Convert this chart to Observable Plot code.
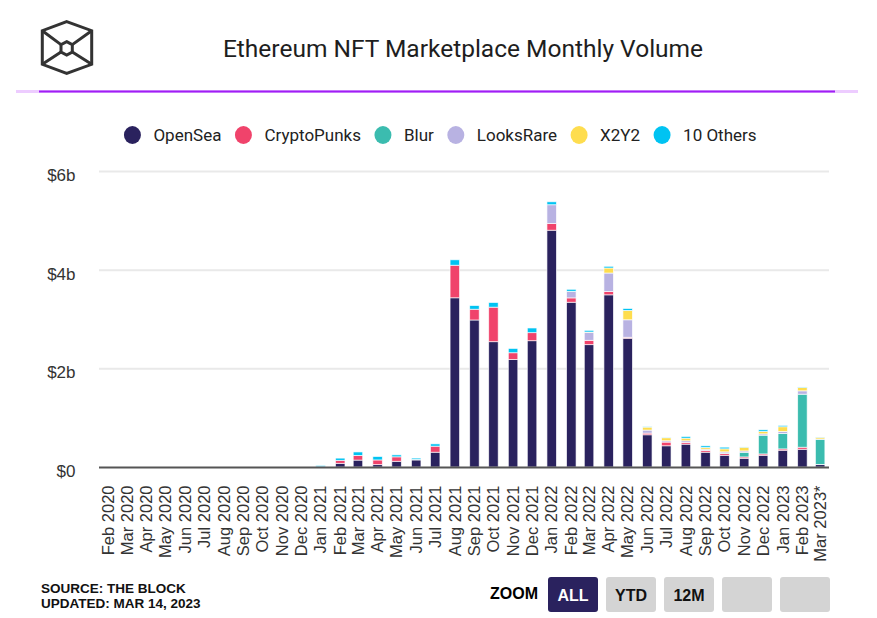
<!DOCTYPE html>
<html>
<head>
<meta charset="utf-8">
<script src="https://cdn.jsdelivr.net/npm/d3@7"></script>
<script src="https://cdn.jsdelivr.net/npm/@observablehq/plot@0.6"></script>
<style>
  html, body { margin: 0; padding: 0; background: #fff; }
  body { width: 877px; height: 618px; position: relative; overflow: hidden; font-family: "Liberation Sans", Arial, sans-serif; }
  #frame { position: absolute; left: 0; top: 0; }
  #chart { position: absolute; left: 0; top: 160px; }
</style>
</head>
<body>
<svg id="frame" width="877" height="618"></svg>
<div id="chart"></div>
<script>
// ---------- DATA ----------
const months = [
  "2020-02","2020-03","2020-04","2020-05","2020-06","2020-07","2020-08","2020-09","2020-10","2020-11","2020-12",
  "2021-01","2021-02","2021-03","2021-04","2021-05","2021-06","2021-07","2021-08","2021-09","2021-10","2021-11","2021-12",
  "2022-01","2022-02","2022-03","2022-04","2022-05","2022-06","2022-07","2022-08","2022-09","2022-10","2022-11","2022-12",
  "2023-01","2023-02","2023-03"
];
const monthLabels = [
  "Feb 2020","Mar 2020","Apr 2020","May 2020","Jun 2020","Jul 2020","Aug 2020","Sep 2020","Oct 2020","Nov 2020","Dec 2020",
  "Jan 2021","Feb 2021","Mar 2021","Apr 2021","May 2021","Jun 2021","Jul 2021","Aug 2021","Sep 2021","Oct 2021","Nov 2021","Dec 2021",
  "Jan 2022","Feb 2022","Mar 2022","Apr 2022","May 2022","Jun 2022","Jul 2022","Aug 2022","Sep 2022","Oct 2022","Nov 2022","Dec 2022",
  "Jan 2023","Feb 2023","Mar 2023*"
];
const seriesNames = ["OpenSea", "CryptoPunks", "Blur", "LooksRare", "X2Y2", "10 Others"];
const seriesColors = ["#2a225e", "#f0436b", "#3bbcaf", "#b8b2e2", "#fedd4f", "#00c3f2"];

// monthly volume, $ billions
const openSea = [0,0,0,0,0,0,0,0,0,0,0,
  0.006,0.075,0.14,0.048,0.116,0.143,0.30,3.43,2.98,2.54,2.18,2.56,
  4.80,3.34,2.48,3.49,2.61,0.653,0.43,0.463,0.30,0.238,0.177,0.238,
  0.34,0.36,0.048];
const cryptoPunks = [0,0,0,0,0,0,0,0,0,0,0,
  0,0.06,0.095,0.095,0.09,0.01,0.122,0.66,0.218,0.70,0.136,0.163,
  0.136,0.088,0.088,0.068,0.02,0.034,0.075,0.034,0.034,0.034,0.027,0.027,
  0.027,0.041,0.005];
const blur = [0,0,0,0,0,0,0,0,0,0,0,
  0,0,0,0,0,0,0,0,0,0,0,0,
  0,0,0,0,0,0,0,0,0,0.01,0.095,0.38,
  0.313,1.075,0.51];
const looksRare = [0,0,0,0,0,0,0,0,0,0,0,
  0,0,0,0,0,0,0,0,0,0,0,0,
  0.38,0.129,0.163,0.374,0.354,0.061,0.027,0.034,0.027,0.025,0.027,0.027,
  0.041,0.068,0.005];
const x2y2 = [0,0,0,0,0,0,0,0,0,0,0,
  0,0,0,0,0,0,0,0,0,0,0,0,
  0,0.005,0.005,0.102,0.19,0.061,0.061,0.054,0.034,0.061,0.075,0.048,
  0.095,0.068,0.034];
const others = [0,0,0,0,0,0,0,0,0,0,0,
  0.025,0.045,0.07,0.07,0.04,0.027,0.047,0.11,0.075,0.095,0.088,0.095,
  0.06,0.04,0.034,0.034,0.04,0.014,0.01,0.034,0.034,0.034,0.005,0.034,
  0.027,0.01,0.005];
const seriesValues = [openSea, cryptoPunks, blur, looksRare, x2y2, others];
const yTicks = [0, 2, 4, 6];

// ---------- BUILD ----------
const parseMonth = d3.utcParse("%Y-%m");
const dates = months.map(parseMonth);
const labelByTime = new Map(dates.map((d, i) => [+d, monthLabels[i]]));
const rows = [];
seriesNames.forEach((s, si) => {
  seriesValues[si].forEach((v, i) => {
    if (v > 0) rows.push({
      series: s, value: v, date: dates[i],
      start: d3.utcHour.offset(dates[i], -180),
      end: d3.utcHour.offset(dates[i], 180)
    });
  });
});

const plot = Plot.plot({
  width: 877, height: 420,
  marginLeft: 99, marginRight: 48, marginTop: 11, marginBottom: 113,
  style: { fontFamily: "'Liberation Sans', Arial, sans-serif", background: "transparent", overflow: "visible" },
  x: { type: "utc", label: null, domain: [new Date(Date.UTC(2020, 0, 17)), new Date(Date.UTC(2023, 2, 15))] },
  y: { domain: [0, 6], label: null },
  color: { domain: seriesNames, range: seriesColors },
  marks: [
    Plot.gridY(yTicks.filter(t => t > 0), { stroke: "#e9e9e9", strokeOpacity: 1, strokeWidth: 2 }),
    Plot.rectY(rows, Plot.stackY({
      x1: "start", x2: "end", y: "value", fill: "series", z: "series",
      order: seriesNames, stroke: "#ffffff", strokeWidth: 0.8, strokeOpacity: 0.8
    })),
    Plot.ruleY([0], { stroke: "#555", strokeWidth: 2 }),
    Plot.axisY(yTicks, {
      tickSize: 0, tickPadding: 24, fontSize: 17, fill: "#333", dy: 4, label: null,
      tickFormat: d => d === 0 ? "$0" : `$${d}b`
    }),
    Plot.axisX(dates, {
      tickSize: 0, tickPadding: 18, tickRotate: -90, fontSize: 16.5, fill: "#333", label: null,
      tickFormat: d => labelByTime.get(+d)
    })
  ]
});
document.getElementById("chart").appendChild(plot);

// ---------- FRAME: logo, title, legend, footer ----------
const NS = "http://www.w3.org/2000/svg";
const frame = document.getElementById("frame");
function el(tag, attrs, parent = frame) {
  const e = document.createElementNS(NS, tag);
  for (const k in attrs) e.setAttribute(k, attrs[k]);
  parent.appendChild(e);
  return e;
}
// logo
const logo = el("g", { fill: "none", stroke: "#333", "stroke-width": 3, "stroke-linejoin": "miter" });
el("polygon", { points: "66.7,21.7 91.7,30.7 91.7,64.3 66.7,73.3 42.3,64.3 42.3,30.7" }, logo);
el("polygon", { points: "66.7,41.7 72.3,44.6 72.3,52 66.7,55 61,52 61,44.6" }, logo);
el("path", { d: "M42.3,30.7L61,44.6M91.7,30.7L72.3,44.6M42.3,64.3L61,52M91.7,64.3L72.3,52" }, logo);

// title
const title = el("text", { x: 463, y: 57, "text-anchor": "middle", "font-family": "Roboto, sans-serif", "font-size": 24.5, fill: "#1e1e1e" });
title.textContent = "Ethereum NFT Marketplace Monthly Volume";

// divider line
el("rect", { x: 16, y: 90, width: 842, height: 3, fill: "#edccff" });
el("rect", { x: 39, y: 90.5, width: 796, height: 2, fill: "#a01ef5" });

// legend
const lg = el("g", {});
let lx = 0;
seriesNames.forEach((s, i) => {
  el("ellipse", { cx: lx + 9, cy: 135, rx: 8.5, ry: 9, fill: seriesColors[i] }, lg);
  const t = el("text", { x: lx + 30, y: 141, "font-family": "Roboto, sans-serif", "font-size": 17, fill: "#222" }, lg);
  t.textContent = s;
  lx = lx + 30 + t.getComputedTextLength() + 13;
});
const lw = lx - 13;
lg.setAttribute("transform", `translate(${440 - lw / 2},0)`);

// footer
const f1 = el("text", { x: 41, y: 593, "font-weight": "bold", "font-size": 13.5, fill: "#111" });
f1.textContent = "SOURCE: THE BLOCK";
const f2 = el("text", { x: 41, y: 608, "font-weight": "bold", "font-size": 13.5, fill: "#111" });
f2.textContent = "UPDATED: MAR 14, 2023";
const zt = el("text", { x: 490, y: 599, "font-weight": "bold", "font-size": 16, fill: "#000" });
zt.textContent = "ZOOM";
const buttons = ["ALL", "YTD", "12M", "", ""];
buttons.forEach((b, i) => {
  const x = 548 + i * 58;
  el("rect", { x, y: 577, width: 50, height: 35, rx: 3, fill: i === 0 ? "#2a225e" : "#d4d4d4" });
  if (b) {
    const t = el("text", { x: x + 25, y: 601, "text-anchor": "middle", "font-weight": "bold", "font-size": 16, fill: i === 0 ? "#fff" : "#111" });
    t.textContent = b;
  }
});
</script>
</body>
</html>
